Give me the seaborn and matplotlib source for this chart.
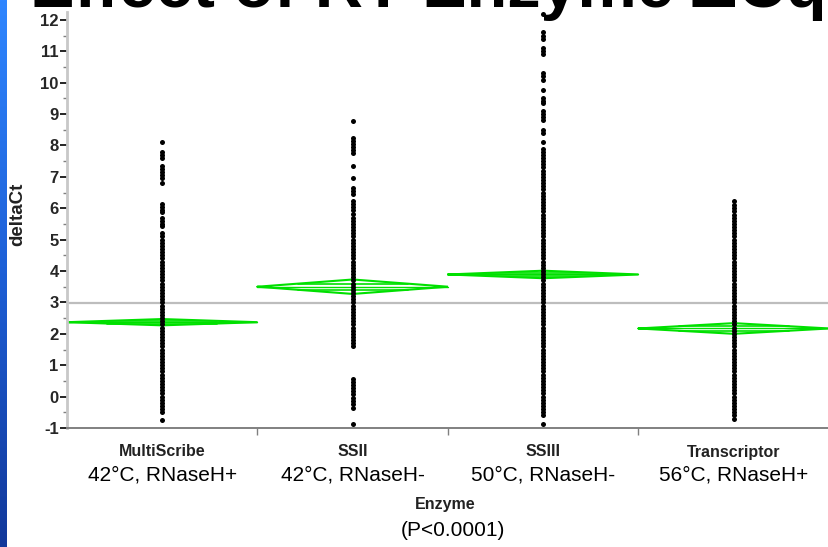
import numpy as np
import pandas as pd
import matplotlib
matplotlib.use("Agg")
import matplotlib.pyplot as plt
import seaborn as sns
from matplotlib.colors import LinearSegmentedColormap
from matplotlib.transforms import blended_transform_factory

# ---------------- data ----------------
enzymes = ["MultiScribe", "SSII", "SSIII", "Transcriptor"]
conditions = ["42°C, RNaseH+", "42°C, RNaseH-", "50°C, RNaseH-", "56°C, RNaseH+"]

multiscribe = [8.1, 7.8, 7.7, 7.6, 7.35, 7.25, 7.15, 7.05, 6.95, 6.8, 6.15, 6.05,
               5.95, 5.88, 5.7, 5.6, 5.5, 5.42, 5.2, 5.1, 5.0, 4.9, 4.8, 4.7, 4.6,
               4.5, 4.4, 4.3, 4.2, 4.1, 4.0, 3.9, 3.8, 3.7, 3.6, 3.5, 3.4, 3.3, 3.2,
               3.1, 3.0, 2.9, 2.8, 2.7, 2.6, 2.5, 2.4, 2.3, 2.2, 2.1, 2.0, 1.9, 1.8,
               1.7, 1.6, 1.5, 1.4, 1.3, 1.2, 1.1, 1.0, 0.9, 0.8, 0.7, 0.6, 0.5, 0.4,
               0.3, 0.2, 0.1, 0.0, -0.1, -0.2, -0.3, -0.4, -0.5, -0.73]
ssii = [8.77, 8.25, 8.15, 8.05, 7.95, 7.85, 7.77, 7.36, 6.97, 6.66, 6.56, 6.46,
        6.24, 6.14, 6.04, 5.94, 5.83, 5.7, 5.6, 5.5, 5.4, 5.3, 5.2, 5.1, 5.0, 4.9,
        4.8, 4.7, 4.6, 4.5, 4.4, 4.3, 4.2, 4.1, 4.0, 3.9, 3.8, 3.7, 3.6, 3.5, 3.4,
        3.3, 3.2, 3.1, 3.0, 2.9, 2.8, 2.7, 2.6, 2.5, 2.4, 2.3, 2.2, 2.1, 2.0, 1.9,
        1.8, 1.7, 1.6, 0.57, 0.47, 0.37, 0.27, 0.17, 0.07, -0.03, -0.13, -0.23,
        -0.35, -0.86]
ssiii = [12.2, 11.6, 11.5, 11.4, 11.1, 11.0, 10.9, 10.3, 10.2, 10.1, 9.75, 9.5,
         9.43, 9.36, 9.1, 9.0, 8.9, 8.8, 8.5, 8.4, 8.1, 7.9, 7.8, 7.7, 7.6, 7.5,
         7.4, 7.3, 7.2, 7.1, 7.0, 6.9, 6.8, 6.7, 6.6, 6.5, 6.4, 6.3, 6.2, 6.1, 6.0,
         5.9, 5.8, 5.7, 5.6, 5.5, 5.4, 5.3, 5.2, 5.1, 5.0, 4.9, 4.8, 4.7, 4.6, 4.5,
         4.4, 4.3, 4.2, 4.1, 4.0, 3.9, 3.8, 3.7, 3.6, 3.5, 3.4, 3.3, 3.2, 3.1, 3.0,
         2.9, 2.8, 2.7, 2.6, 2.5, 2.4, 2.3, 2.2, 2.1, 2.0, 1.9, 1.8, 1.7, 1.6, 1.5,
         1.4, 1.3, 1.2, 1.1, 1.0, 0.9, 0.8, 0.7, 0.6, 0.5, 0.4, 0.3, 0.2, 0.1, 0.0,
         -0.1, -0.2, -0.3, -0.4, -0.5, -0.6, -0.86]
transcriptor = [6.24, 6.1, 6.0, 5.9, 5.8, 5.7, 5.6, 5.5, 5.4, 5.3, 5.2, 5.1, 5.0,
                4.9, 4.8, 4.7, 4.6, 4.5, 4.4, 4.3, 4.2, 4.1, 4.0, 3.9, 3.8, 3.7,
                3.6, 3.5, 3.4, 3.3, 3.2, 3.1, 3.0, 2.9, 2.8, 2.7, 2.6, 2.5, 2.4,
                2.3, 2.2, 2.1, 2.0, 1.9, 1.8, 1.7, 1.6, 1.5, 1.4, 1.3, 1.2, 1.1,
                1.0, 0.9, 0.8, 0.7, 0.6, 0.5, 0.4, 0.3, 0.2, 0.1, 0.0, -0.1, -0.2,
                -0.3, -0.4, -0.5, -0.6, -0.7]

group_means = [2.37, 3.50, 3.89, 2.17]
ci_half = [0.10, 0.23, 0.12, 0.17]
grand_mean = 2.97
yticks = list(range(-1, 13))

# ---------------- plot ----------------
sns.set_theme(style="white")
plt.rcParams['font.family'] = ['Liberation Sans', 'DejaVu Sans']

fig = plt.figure(figsize=(8.29, 5.47), dpi=100)
W, H = 829, 547
ax = fig.add_axes([67 / W, 1 - 428 / H, 1 - 67 / W, (428 - 12) / H])

groups = [multiscribe, ssii, ssiii, transcriptor]
df = pd.DataFrame({
    "Enzyme": np.concatenate([[e] * len(g) for e, g in zip(enzymes, groups)]),
    "deltaCt": np.concatenate(groups),
})

ax.axhline(grand_mean, color="#bdbdbd", lw=1.6, zorder=1)

sns.stripplot(data=df, x="Enzyme", y="deltaCt", order=enzymes, jitter=False,
              color="black", size=3.6, linewidth=0, ax=ax, zorder=3)

green = "#00e000"
r = 0.42
for i, (m, h) in enumerate(zip(group_means, ci_half)):
    ax.plot([i - 0.5, i, i + 0.5, i, i - 0.5], [m, m + h, m, m - h, m],
            color=green, lw=1.5, zorder=2, solid_joinstyle="miter")
    half_w = 0.5 * (1 - r)
    for s in (1, -1):
        ax.plot([i - half_w, i + half_w], [m + s * r * h, m + s * r * h],
                color=green, lw=1.2, zorder=2)
    ax.plot([i - 0.5, i + 0.5], [m, m], color=green, lw=1.0, zorder=2)

ax.set_xlim(-0.5, 3.5)
ax.set_ylim(-1, 12.25)

for s in ("top", "right"):
    ax.spines[s].set_visible(False)
ax.spines["left"].set_color("#c8c8c8")
ax.spines["left"].set_linewidth(2)
ax.spines["bottom"].set_color("#808080")
ax.spines["bottom"].set_linewidth(1.4)

ax.set_yticks(yticks)
ax.set_yticks([v + 0.5 for v in yticks[:-1]], minor=True)
ax.set_yticklabels([str(v) for v in yticks], fontweight="bold", fontsize=12)
ax.tick_params(axis="y", which="major", length=5, width=1.2, color="black",
               direction="out", pad=1, left=True)
ax.tick_params(axis="y", which="minor", length=3, width=1.0, color="#808080",
               direction="out", left=True)
ax.set_xticks([0.5, 1.5, 2.5])
ax.set_xticklabels([])
ax.tick_params(axis="x", which="major", length=5, width=1.0, color="#808080",
               direction="out", bottom=True)
ax.set_xlabel("")
ax.set_ylabel("")

tr = blended_transform_factory(ax.transData, fig.transFigure)
for i, (e, c) in enumerate(zip(enzymes, conditions)):
    ax.text(i, 1 - 452 / H, e, transform=tr, ha="center", va="center",
            fontsize=11.5, fontweight="bold", color="#222222")
    ax.text(i, 1 - 475 / H, c, transform=tr, ha="center", va="center",
            fontsize=15, color="black")

fig.text(445 / W, 1 - 504 / H, "Enzyme", ha="center", va="center",
         fontsize=11.5, fontweight="bold", color="#222222")
fig.text(453 / W, 1 - 530 / H, "(P<0.0001)", ha="center", va="center",
         fontsize=15, color="black")
fig.text(18 / W, 1 - 214 / H, "deltaCt", rotation=90, ha="center", va="center",
         fontsize=13.5, fontweight="bold", color="#222222")

fig.text(30 / W, 1 - 7 / H, "Effect of RT Enzyme ΔCq", ha="left",
         va="baseline", fontsize=48, fontweight="bold", color="black")

# left blue slide edge
bar = fig.add_axes([0, 0, 7 / W, 1])
cmap = LinearSegmentedColormap.from_list("edge", ["#2f86ff", "#1d5fd6", "#12389a"])
bar.imshow(np.linspace(0, 1, 256).reshape(-1, 1), aspect="auto", cmap=cmap)
bar.axis("off")

fig.savefig("out.png", dpi=100)
